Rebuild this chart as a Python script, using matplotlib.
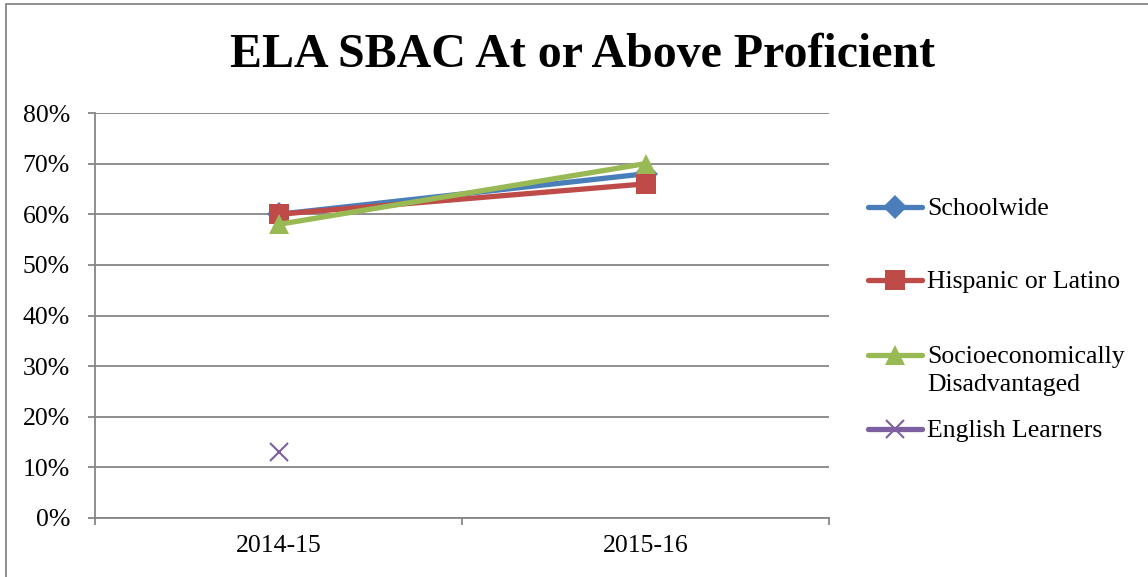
import matplotlib
matplotlib.use("Agg")
import matplotlib.pyplot as plt
from matplotlib.lines import Line2D
from matplotlib.patches import Rectangle
from matplotlib.ticker import PercentFormatter

years = ["2014-15", "2015-16"]
series_names = ["Schoolwide", "Hispanic or Latino", "Socioeconomically\nDisadvantaged", "English Learners"]
schoolwide = [0.60, 0.68]
hispanic = [0.60, 0.66]
socio = [0.58, 0.70]
english = [0.13, None]
yticks = [0, 0.1, 0.2, 0.3, 0.4, 0.5, 0.6, 0.7, 0.8]

colors = ["#4A7EBB", "#BE4B48", "#98B954", "#7D60A0"]
markers = ["D", "s", "^", "x"]
msizes = [12, 14, 15, 13]

plt.rcParams['font.family'] = ['Liberation Serif', 'DejaVu Serif']

fig = plt.figure(figsize=(11.48, 5.77), dpi=100)
ax = fig.add_axes([95/1148, 1-518/577, (829-95)/1148, (518-113)/577])

xs = [0.5, 1.5]
all_series = [schoolwide, hispanic, socio, english]
for vals, c, m, ms in zip(all_series, colors, markers, msizes):
    px = [x for x, v in zip(xs, vals) if v is not None]
    py = [v for v in vals if v is not None]
    ax.plot(px, py, color=c, lw=3.8, marker=m, markersize=ms,
            markeredgewidth=1.5 if m == "x" else 0, markeredgecolor=c,
            solid_capstyle='round', zorder=3)

ax.set_xlim(0, 2)
ax.set_ylim(0, 0.8)
ax.set_yticks(yticks)
ax.yaxis.set_major_formatter(PercentFormatter(1.0, decimals=0))
ax.set_xticks([0, 1, 2])
ax.set_xticklabels([])
ax.set_xticks(xs, minor=True)
ax.set_xticklabels(years, minor=True)
ax.tick_params(axis='x', which='minor', length=0, pad=12, labelsize=18.5)
ax.tick_params(axis='x', which='major', length=5, width=1.3, color="#868686", direction='out')
ax.tick_params(axis='y', length=5, width=1.3, color="#868686", direction='out', pad=13, labelsize=18.5)
ax.grid(axis='y', color="#868686", lw=1.3, zorder=0)
for s in ['top', 'right']:
    ax.spines[s].set_visible(False)
for s in ['left', 'bottom']:
    ax.spines[s].set_color("#868686")
    ax.spines[s].set_linewidth(1.3)

fig.text(582/1148, 1-55/577, "ELA SBAC At or Above Proficient", ha='center', va='center',
         fontsize=34.5, fontweight='bold')

# legend (manual layout)
leg_y = [207, 280, 355, 429]
for name, c, m, ms, y in zip(series_names, colors, markers, msizes, leg_y):
    yf = 1 - y/577
    fig.add_artist(Line2D([868/1148, 922/1148], [yf, yf], color=c, lw=3.8,
                          solid_capstyle='round', transform=fig.transFigure))
    fig.add_artist(Line2D([895/1148], [yf], color=c, marker=m, markersize=ms,
                          markeredgewidth=1.5 if m == "x" else 0, markeredgecolor=c,
                          transform=fig.transFigure))
    if "\n" in name:
        fig.text(927/1148, 1-(y+16)/577, name, ha='left', va='center', fontsize=18.5, linespacing=1.3)
    else:
        fig.text(927/1148, 1-(y+2)/577, name, ha='left', va='center', fontsize=18.5)

fig.add_artist(Rectangle((6/1148, -0.1), 1.2, 1 - 4/577 + 0.1, transform=fig.transFigure,
                         fill=False, edgecolor="#868686", lw=1.3))

fig.savefig("out.png", dpi=100)
